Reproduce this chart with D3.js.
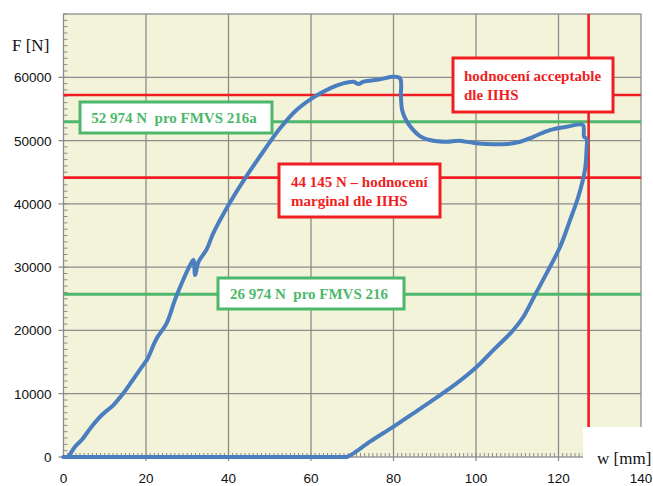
<!DOCTYPE html>
<html><head><meta charset="utf-8">
<script src="https://cdn.jsdelivr.net/npm/d3@7"></script>
<style>body{margin:0;background:#fff} svg{display:block} text{white-space:pre}</style>
</head><body><svg id="c" width="653" height="486"></svg>
<script>
// ---------- data ----------
const xTicks = [0, 20, 40, 60, 80, 100, 120, 140];
const yTicks = [0, 10000, 20000, 30000, 40000, 50000, 60000];
const xTitle = "w [mm]";
const yTitle = "F [N]";
// measured force-deflection curve (w in mm, F in N)
const curveW = [0, 1.2, 2.8, 4.4, 6.8, 9.3, 12.1, 14.5, 16.5, 19.3, 20.2, 22.6, 25.0, 27.0, 29.0, 30.7, 31.5, 31.9, 32.7, 34.7,
  36.3, 40.0, 44.0, 48.4, 52.5, 56.5, 60.6, 64.6, 67.8, 70.3, 71.5, 72.7, 76.7, 80.0, 81.6, 81.8, 82.1, 83.0, 84.6, 86.4, 88.8,
  92.9, 95.7, 99.3, 102.6, 107.4, 110.7, 113.9, 117.9, 122.0, 125.9, 126.2, 126.8, 126.8, 126.4, 124.8, 122.8, 120.4, 117.1,
  114.3, 111.5, 108.7, 104.2, 100.2, 95.3, 91.3, 84.8, 80.0, 74.3, 70.3, 68.7, 0];
const curveF = [0, 0, 1630, 2690, 4790, 6630, 8210, 10060, 11900, 14530, 15320, 18750, 21120, 24800, 27960, 30330, 31120, 28750, 30800, 32800,
  35340, 39810, 44030, 48230, 51930, 54820, 56820, 58250, 59040, 59290, 58930, 59290, 59670, 60080, 59830, 57000, 54800, 53300, 51800, 50700, 50080,
  49810, 49970, 49650, 49450, 49450, 49810, 50600, 51660, 52180, 52450, 50600, 50300, 48500, 45340, 41120, 37440, 33220, 29020,
  25590, 22160, 19790, 16900, 14270, 11640, 9790, 6900, 4790, 2420, 580, 0, 0];
// limit lines (F in N) and their labels
const limitValues = [57200, 52974, 44145, 25700];
const limitKinds = ["iihs", "fmvs", "iihs", "fmvs"];
const limitLabels = [["hodnocení acceptable", "dle IIHS"], ["52 974 N  pro FMVS 216a"], ["44 145 N – hodnocení", "marginal dle IIHS"], ["26 974 N  pro FMVS 216"]];
const crushLimit = 127.3; // mm, vertical red line

// ---------- layout ----------
const svg = d3.select("#c");
const X0 = 63.5, X1 = 641, Y0 = 457, Y1 = 14;
const x = d3.scaleLinear().domain([0, 140]).range([X0, X1]);
const y = d3.scaleLinear().domain([0, 70000]).range([Y0, Y1]);
const gridCol = "#8c8c8c", red = "#f01e23", green = "#4db86b", blue = "#4a7ebf";

svg.append("rect").attr("x", X0).attr("y", Y1).attr("width", X1 - X0).attr("height", Y0 - Y1).attr("fill", "#f3f3da");

// grid
const g = svg.append("g");
g.selectAll("line.h").data(yTicks.filter(d => d > 0)).join("line")
  .attr("x1", X0 - 5).attr("x2", X1).attr("y1", d => y(d)).attr("y2", d => y(d))
  .attr("stroke", gridCol).attr("stroke-width", 1.3);
g.selectAll("line.v").data(xTicks.filter(d => d > 0 && d < 140)).join("line")
  .attr("y1", Y1).attr("y2", Y0 + 4).attr("x1", d => x(d)).attr("x2", d => x(d))
  .attr("stroke", gridCol).attr("stroke-width", 1.3);
// minor ticks
g.append("g").selectAll("line").data(d3.range(0, 70001, 1000)).join("line")
  .attr("x1", X0).attr("x2", X0 + 4).attr("y1", d => y(d)).attr("y2", d => y(d))
  .attr("stroke", gridCol).attr("stroke-width", 1);
g.append("g").selectAll("line").data(d3.range(0, 141, 1)).join("line")
  .attr("x1", d => x(d)).attr("x2", d => x(d)).attr("y1", Y0).attr("y2", Y0 - 4)
  .attr("stroke", gridCol).attr("stroke-width", 1);
// border
svg.append("rect").attr("x", X0).attr("y", Y1).attr("width", X1 - X0).attr("height", Y0 - Y1)
  .attr("fill", "none").attr("stroke", gridCol).attr("stroke-width", 1.3);
svg.append("line").attr("x1", X0 - 5).attr("x2", X0).attr("y1", Y0).attr("y2", Y0).attr("stroke", gridCol).attr("stroke-width", 1.3);

// tick labels
svg.append("g").selectAll("text").data(yTicks).join("text")
  .attr("x", X0 - 12).attr("y", d => y(d) + 5).attr("text-anchor", "end")
  .attr("font-family", "Liberation Sans, Arial, sans-serif").attr("font-size", 13.5).attr("fill", "#111")
  .text(d => d);
svg.append("g").selectAll("text").data(xTicks).join("text")
  .attr("x", d => x(d)).attr("y", 483).attr("text-anchor", "middle")
  .attr("font-family", "Liberation Sans, Arial, sans-serif").attr("font-size", 13.5).attr("fill", "#111")
  .text(d => d);

// limit lines
svg.append("g").selectAll("line").data(limitValues).join("line")
  .attr("x1", X0).attr("x2", X1).attr("y1", d => y(d)).attr("y2", d => y(d))
  .attr("stroke", (d, i) => limitKinds[i] === "iihs" ? red : green)
  .attr("stroke-width", (d, i) => limitKinds[i] === "iihs" ? 2.6 : 3);
svg.append("line").attr("x1", x(crushLimit)).attr("x2", x(crushLimit)).attr("y1", Y1).attr("y2", Y0)
  .attr("stroke", red).attr("stroke-width", 2.6);

// curve: smooth measured part, straight segments on the zero line
const pts = curveW.map((w, i) => [w, curveF[i]]);
const n = pts.length;
const curveStyle = sel => sel.attr("fill", "none").attr("stroke", blue).attr("stroke-width", 4)
  .attr("stroke-linejoin", "round").attr("stroke-linecap", "round");
svg.append("path").datum(pts.slice(1, n - 1))
  .attr("d", d3.line().x(d => x(d[0])).y(d => y(d[1])).curve(d3.curveCatmullRom.alpha(0.5)))
  .call(curveStyle);
[[pts[0], pts[1]], [pts[n - 2], pts[n - 1]]].forEach(seg =>
  svg.append("path").datum(seg).attr("d", d3.line().x(d => x(d[0])).y(d => y(d[1]))).call(curveStyle));

// label boxes (pixel boxes)
const boxes = [
  {x: 453, y: 58, w: 160, h: 54, tx: 464, anchor: "start"},
  {x: 80, y: 102, w: 192, h: 31, tx: 174, anchor: "middle"},
  {x: 279, y: 164, w: 161, h: 53, tx: 291, anchor: "start"},
  {x: 218, y: 278, w: 186, h: 31, tx: 309, anchor: "middle"}
];
boxes.forEach((b, i) => {
  const col = limitKinds[i] === "iihs" ? red : green;
  svg.append("rect").attr("x", b.x).attr("y", b.y).attr("width", b.w).attr("height", b.h)
    .attr("fill", "#fff").attr("stroke", col).attr("stroke-width", 3);
  const lines = limitLabels[i];
  const t = svg.append("text").attr("font-family", "Liberation Serif, Times New Roman, serif")
    .attr("font-weight", "bold").attr("font-size", 15).attr("fill", col).attr("text-anchor", b.anchor)
    .attr("xml:space", "preserve");
  const lh = 19;
  const startY = b.y + b.h / 2 - (lines.length - 1) * lh / 2 + 5.5;
  lines.forEach((s, k) => t.append("tspan").attr("x", b.tx).attr("y", startY + k * lh).text(s));
});

// axis titles
svg.append("rect").attr("x", 583).attr("y", 427).attr("width", 70).attr("height", 45).attr("fill", "#fff");
svg.append("text").attr("x", 597).attr("y", 464).attr("font-family", "Liberation Serif, Times New Roman, serif")
  .attr("font-size", 17).attr("fill", "#111").text(xTitle);
svg.append("text").attr("x", 12).attr("y", 51).attr("font-family", "Liberation Serif, Times New Roman, serif")
  .attr("font-size", 17).attr("fill", "#111").text(yTitle);
</script></body></html>
